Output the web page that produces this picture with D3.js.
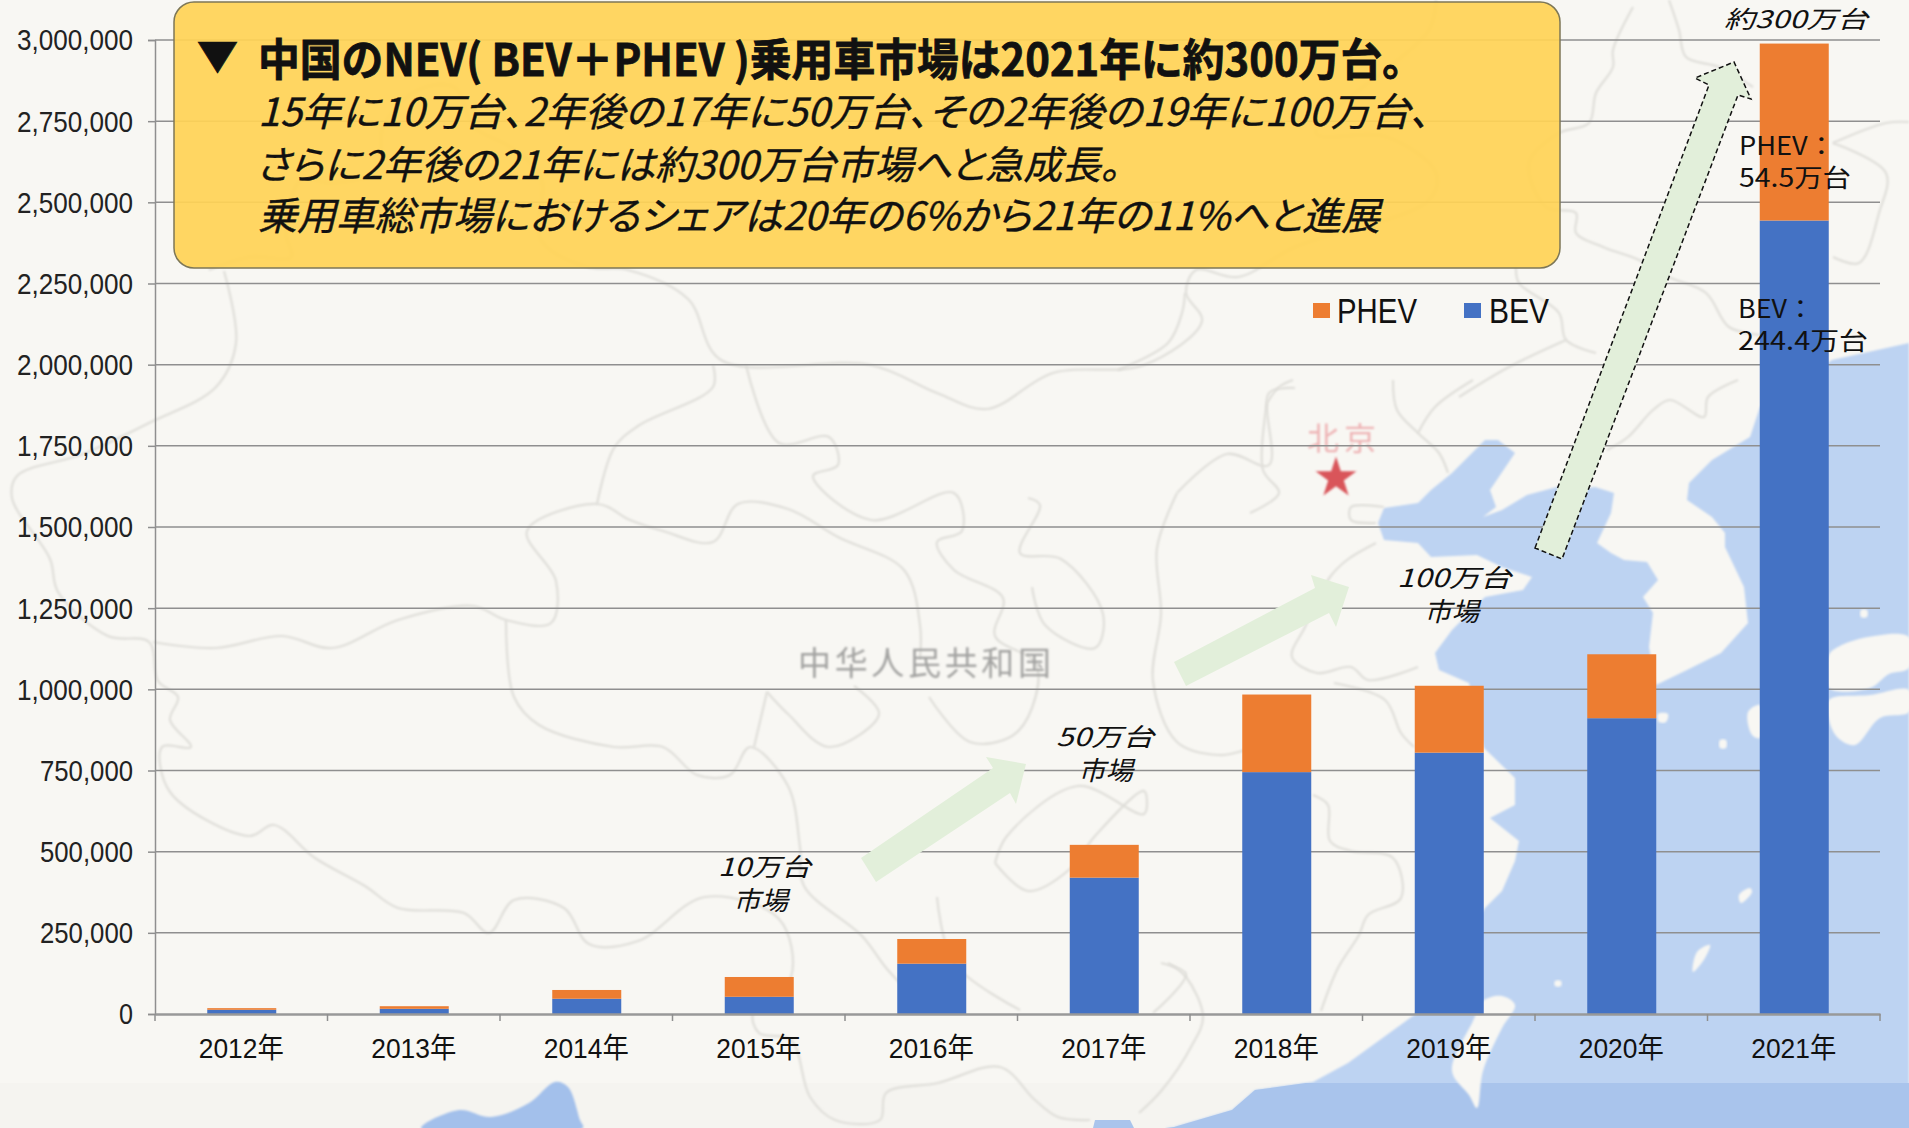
<!DOCTYPE html>
<html lang="ja">
<head>
<meta charset="utf-8">
<title>中国のNEV乗用車市場</title>
<script src="https://cdn.jsdelivr.net/npm/d3@7"></script>
<style>
  html, body { margin: 0; padding: 0; background: #f8f7f3; }
  svg { display: block; }
  text { font-family: "Noto Sans CJK JP", "Noto Sans", sans-serif; fill: #111; }
  .thin { font-family: "Liberation Sans", "Noto Sans CJK JP", sans-serif; }
</style>
</head>
<body>
<div id="grafico"></div>
<script>
// Chart data
const categories = ['2012年', '2013年', '2014年', '2015年', '2016年', '2017年', '2018年', '2019年', '2020年', '2021年'];
const bevValues = [13000, 16000, 47000, 53000, 155000, 420000, 745000, 805000, 911000, 2444000];
const phevValues = [5000, 8000, 27000, 61000, 76000, 101000, 239000, 206000, 197000, 545000];
const yTicks = [0, 250000, 500000, 750000, 1000000, 1250000, 1500000, 1750000, 2000000, 2250000, 2500000, 2750000, 3000000];
const seriesNames = ['BEV', 'PHEV'];

// Background map, traced by hand
const seaOutline = [[1909,343],[1832,360],[1780,395],[1760,407],[1750,437],[1712,460],[1689,483],[1687,500],[1712,517],[1725,533],[1725,547],[1744,587],[1748,623],[1721,653],[1687,670],[1656,685],[1649,647],[1653,613],[1643,597],[1658,580],[1647,562],[1624,560],[1611,553],[1597,543],[1611,513],[1614,493],[1595,487],[1574,490],[1557,487],[1527,495],[1502,510],[1483,517],[1496,507],[1490,490],[1515,453],[1498,440],[1485,440],[1452,473],[1431,490],[1418,503],[1384,508],[1378,523],[1384,540],[1418,543],[1431,557],[1477,555],[1502,567],[1532,577],[1523,590],[1485,597],[1452,630],[1435,653],[1439,670],[1469,683],[1484,748],[1515,778],[1515,805],[1490,818],[1519,841],[1515,861],[1502,891],[1485,908],[1450,970],[1417,1013],[1348,1063],[1313,1082],[1255,1090],[1232,1110],[1174,1127],[1165,1128],[1909,1128]];
const bengalOutline = [[421,1128],[459,1110],[491,1117],[529,1103],[555,1082],[568,1087],[580,1120],[583,1128]];
const gulfOutline = [[1093,1128],[1095,1120],[1130,1120],[1134,1128]];
const islands = [
  [[1502,996],[1515,1005],[1502,1028],[1483,1071],[1477,1108],[1469,1095],[1452,1071],[1473,1021],[1483,1001]],
  [[1829,655],[1838,647],[1868,637],[1909,637],[1909,668],[1889,674],[1870,688],[1829,688]],
  [[1829,700],[1870,695],[1909,690],[1909,712],[1880,718],[1855,745],[1838,738],[1829,720]],
  [[1739,895],[1750,888],[1752,892],[1741,903]],
  [[1697,952],[1710,945],[1705,958],[1693,972]],
  [[1555,981],[1561,981],[1561,986],[1555,986]],
  [[1720,740],[1726,740],[1726,748],[1720,748]],
  [[1658,714],[1668,714],[1666,722],[1659,722]],
  [[1861,610],[1867,610],[1867,617],[1861,617]],
  [[1748,712],[1760,705],[1760,738],[1752,735]]
];
const mapOutlines = [
  [[224,271],[236,343],[216,387],[149,423],[83,454],[17,476],[12,498],[50,559],[58,592],[108,636],[149,642],[158,681],[178,697],[170,720],[191,747],[162,747],[170,792],[249,836],[274,825],[315,858],[365,886],[398,908],[464,913],[489,933],[514,900],[564,908],[589,944],[638,941],[705,897],[779,919],[791,977],[753,1013],[759,1033],[791,1040],[810,1097],[835,1120],[880,1120],[886,1093],[938,1083],[1000,1067],[1035,1100],[1058,1117],[1090,1120]],
  [[209,270],[250,257],[291,257],[286,233],[301,180],[332,183],[378,170],[383,127],[418,90],[454,87],[474,127],[510,147],[541,177],[541,240],[587,267],[628,270],[688,299],[721,360],[871,365],[937,393],[987,409],[1053,373],[1144,365],[1202,321],[1186,293],[1196,270],[1238,277],[1295,247],[1429,200],[1436,173],[1387,137],[1316,133],[1429,30],[1436,0]],
  [[1669,0],[1679,30],[1686,57],[1719,67],[1753,87]],
  [[1633,7],[1613,50],[1613,67],[1596,93],[1589,123],[1559,133],[1529,163],[1546,207],[1576,213],[1576,233],[1603,247],[1639,260],[1669,277],[1706,293],[1729,327],[1760,335]],
  [[1833,143],[1886,123],[1909,122]],
  [[1833,143],[1886,173],[1879,213],[1859,263],[1833,257]],
  [[506,620],[514,697],[539,725],[614,747],[663,747],[697,775],[730,775],[750,747],[788,786],[800,847],[804,886],[862,936],[887,969],[930,1013]],
  [[153,642],[216,648],[282,636],[332,648],[398,620],[473,606],[506,620],[551,623],[556,581],[527,531],[597,504],[630,520],[663,531],[713,542],[738,504],[788,509],[838,537],[904,570],[920,625],[920,659]],
  [[597,504],[614,448],[638,426],[713,387],[713,365]],
  [[746,365],[779,443],[829,437],[838,465],[813,476],[871,520],[954,493],[962,531],[937,542],[954,570],[1003,598],[995,636],[1036,664],[1032,708],[1012,736],[970,742],[929,697]],
  [[1028,498],[1040,505],[1020,553],[1061,559],[1103,614],[1095,648],[1045,625],[1032,587]],
  [[1177,493],[1157,548],[1161,614],[1153,681],[1177,742],[1219,755],[1245,750]],
  [[1177,493],[1227,454],[1269,465],[1269,393],[1295,388]],
  [[767,692],[754,747]],
  [[767,692],[788,714],[829,747],[879,714],[854,686]],
  [[995,863],[1028,891],[1070,869],[1095,836],[1144,791],[1144,814],[1078,786],[1007,836],[995,863]],
  [[937,897],[954,963],[1020,1010]],
  [[1161,963],[1186,974],[1153,1013]],
  [[1168,963],[1186,977],[1203,1017],[1191,1047],[1162,1090],[1139,1113]],
  [[1267,403],[1279,387],[1293,380]],
  [[1267,403],[1263,470],[1279,493],[1250,513]],
  [[1393,380],[1397,410],[1418,433],[1439,453],[1448,473]],
  [[1418,433],[1435,407],[1473,380]],
  [[1384,507],[1351,507],[1351,520],[1376,523]],
  [[1376,543],[1347,560],[1330,577],[1305,627],[1292,657],[1317,673],[1351,667],[1368,680],[1418,667]],
  [[1334,683],[1385,700],[1401,733],[1414,747]],
  [[1738,380],[1708,397],[1704,417],[1670,400],[1653,410],[1628,437],[1607,450]],
  [[1313,795],[1328,805],[1330,841],[1351,851],[1393,858],[1401,898],[1368,915],[1359,935],[1338,968],[1321,1011]],
  [[1516,267],[1519,283],[1559,313],[1566,340],[1596,353]],
  [[1566,340],[1509,367],[1459,397]],
  [[1185,293],[1182,313],[1168,343],[1118,370]]
];

// Arrows drawn over the grid
const arrowSmall = [[861,858],[993,768],[986,757],[1026,764],[1016,804],[1010,793],[876,882]];
const arrowMiddle = [[1174,662],[1315,588],[1311,575],[1349,587],[1336,627],[1329,613],[1186,686]];
const arrowBig = [[1535,548],[1709,85],[1695,78],[1734,62],[1751,99],[1738,95],[1562,559]];

function criarGrafico() {
  const largura = 1909;
  const altura = 1128;
  const margem = { top: 40, right: 29, bottom: 114, left: 155 };

  const svg = d3.select('#grafico').append('svg')
    .attr('width', largura)
    .attr('height', altura);

  const defs = svg.append('defs');
  defs.append('filter').attr('id', 'borrar')
    .append('feGaussianBlur').attr('stdDeviation', 0.9);
  defs.append('clipPath').attr('id', 'faixa')
    .append('rect').attr('x', 0).attr('y', 1083).attr('width', largura).attr('height', 45);

  const linha = d3.line();
  const curva = d3.line().curve(d3.curveCatmullRom.alpha(0.5));
  const fechada = d3.line().curve(d3.curveCatmullRomClosed.alpha(0.5));
  const poligono = (pts) => linha(pts) + 'Z';

  // Map behind the chart
  const mapa = svg.append('g');
  mapa.append('rect').attr('width', largura).attr('height', altura).attr('fill', '#f8f7f3');
  mapa.append('rect').attr('y', 1083).attr('width', largura).attr('height', 45).attr('fill', '#f5f4f0');
  mapa.append('path').attr('d', poligono(seaOutline)).attr('fill', '#bdd3f2').attr('filter', 'url(#borrar)');
  mapa.append('path').attr('d', poligono(seaOutline)).attr('fill', '#a9c4ec').attr('clip-path', 'url(#faixa)');
  mapa.append('path').attr('d', fechada(bengalOutline)).attr('fill', '#a3c0eb').attr('filter', 'url(#borrar)');
  mapa.append('path').attr('d', poligono(gulfOutline)).attr('fill', '#a9c4ec');
  mapa.selectAll('.ilha').data(islands).enter().append('path')
    .attr('class', 'ilha')
    .attr('d', fechada)
    .attr('fill', '#f8f7f3')
    .attr('filter', 'url(#borrar)');
  mapa.selectAll('.fronteira').data(mapOutlines).enter().append('path')
    .attr('class', 'fronteira')
    .attr('d', curva)
    .attr('fill', 'none')
    .attr('stroke', '#dfded9')
    .attr('stroke-width', 2.2)
    .attr('filter', 'url(#borrar)');
  mapa.append('text')
    .attr('x', 798).attr('y', 675)
    .attr('textLength', 253).attr('lengthAdjust', 'spacing')
    .style('font-family', '"Noto Sans CJK SC"')
    .style('font-size', '33px')
    .style('fill', '#a3a3a1')
    .attr('filter', 'url(#borrar)')
    .text('中华人民共和国');
  mapa.append('text')
    .attr('x', 1307).attr('y', 450)
    .attr('textLength', 69).attr('lengthAdjust', 'spacing')
    .style('font-family', '"Noto Sans CJK SC"')
    .style('font-size', '32px')
    .style('fill', '#eeb4b5')
    .attr('filter', 'url(#borrar)')
    .text('北京');
  mapa.append('path')
    .attr('d', d3.symbol(d3.symbolStar, 520)())
    .attr('transform', 'translate(1336,478)')
    .attr('fill', '#d9545a')
    .attr('filter', 'url(#borrar)');

  // Scales
  const x = d3.scaleBand()
    .domain(categories)
    .range([margem.left, largura - margem.right])
    .paddingInner(0.6)
    .paddingOuter(0.3);
  const y = d3.scaleLinear()
    .domain([0, 3000000])
    .range([altura - margem.bottom, margem.top]);

  // Y axis with full-width gridlines
  const eixoY = svg.append('g')
    .attr('transform', `translate(${margem.left},0)`)
    .call(d3.axisLeft(y)
      .tickValues(yTicks)
      .tickSize(7)
      .tickPadding(15)
      .tickFormat(d3.format(',')));
  eixoY.selectAll('.tick line').attr('stroke', '#8f8f8f').attr('stroke-width', 1.5);
  eixoY.select('.domain').attr('stroke', '#8f8f8f').attr('stroke-width', 1.5);
  eixoY.selectAll('.tick text')
    .attr('class', 'thin')
    .attr('dy', '0.34em')
    .style('font-size', '29px')
    .style('fill', '#222')
    .each(function (d) {
      const s = d3.format(',')(d);
      const virgulas = s.split(',').length - 1;
      d3.select(this)
        .attr('textLength', (s.length - virgulas) * 14 + virgulas * 9)
        .attr('lengthAdjust', 'spacingAndGlyphs');
    });

  svg.append('g').selectAll('line').data(yTicks.filter((d) => d > 0)).enter().append('line')
    .attr('x1', margem.left)
    .attr('x2', largura - margem.right)
    .attr('y1', (d) => y(d))
    .attr('y2', (d) => y(d))
    .attr('stroke', '#8f8f8f')
    .attr('stroke-width', 1.5);

  // Green arrows
  svg.append('path').attr('d', poligono(arrowSmall)).attr('fill', '#e2efda');
  svg.append('path').attr('d', poligono(arrowMiddle)).attr('fill', '#e2efda');
  svg.append('path').attr('d', poligono(arrowBig))
    .attr('fill', '#e2efda')
    .attr('stroke', '#111')
    .attr('stroke-width', 1.5)
    .attr('stroke-dasharray', '5,3');

  // Stacked bars
  const tabela = categories.map((c, i) => ({ ano: c, BEV: bevValues[i], PHEV: phevValues[i] }));
  const pilhas = d3.stack().keys(seriesNames)(tabela);
  const cor = d3.scaleOrdinal().domain(seriesNames).range(['#4472c4', '#ed7d31']);

  svg.append('g').selectAll('g').data(pilhas).enter().append('g')
    .attr('fill', (s) => cor(s.key))
    .selectAll('rect').data((s) => s).enter().append('rect')
    .attr('x', (d) => x(d.data.ano) + 0.5)
    .attr('width', x.bandwidth())
    .attr('y', (d) => y(d[1]))
    .attr('height', (d) => y(d[0]) - y(d[1]));

  // X axis: labels centred, tick marks on the band edges
  const eixoX = svg.append('g')
    .attr('transform', `translate(0,${altura - margem.bottom})`)
    .call(d3.axisBottom(x).tickSize(0).tickPadding(24));
  eixoX.select('.domain').attr('stroke', '#999').attr('stroke-width', 2.5);
  eixoX.selectAll('.tick text')
    .attr('class', 'thin')
    .style('font-size', '28px')
    .style('fill', '#111')
    .attr('textLength', 85)
    .attr('lengthAdjust', 'spacingAndGlyphs');
  eixoX.selectAll('.marca').data(d3.range(categories.length + 1)).enter().append('line')
    .attr('class', 'marca')
    .attr('x1', (i) => margem.left + i * x.step())
    .attr('x2', (i) => margem.left + i * x.step())
    .attr('y1', 0)
    .attr('y2', 7)
    .attr('stroke', '#8f8f8f')
    .attr('stroke-width', 1.5);

  // Legend
  const legenda = [
    { nome: 'PHEV', quadro: 1313, texto: 1337, largura: 80 },
    { nome: 'BEV', quadro: 1464, texto: 1489, largura: 60 }
  ];
  const itens = svg.append('g').selectAll('g').data(legenda).enter().append('g');
  itens.append('rect')
    .attr('x', (d) => d.quadro).attr('y', 303)
    .attr('width', 17).attr('height', 15)
    .attr('fill', (d) => cor(d.nome));
  itens.append('text')
    .attr('class', 'thin')
    .attr('x', (d) => d.texto).attr('y', 323)
    .attr('textLength', (d) => d.largura)
    .attr('lengthAdjust', 'spacingAndGlyphs')
    .style('font-size', '35px')
    .style('fill', '#111')
    .text((d) => d.nome);

  // Yellow callout
  svg.append('rect')
    .attr('x', 174).attr('y', 2)
    .attr('width', 1386).attr('height', 266)
    .attr('rx', 20)
    .attr('fill', '#ffd356')
    .attr('fill-opacity', 0.93)
    .attr('stroke', '#7d7757')
    .attr('stroke-width', 1.5);

  const textos = [
    { t: '▼', x: 197, y: 70, w: 41, s: 38, b: 700 },
    { t: '中国のNEV( BEV＋PHEV )乗用車市場は2021年に約300万台。', x: 258, y: 76, w: 1166, s: 44, b: 700 },
    { t: '15年に10万台、2年後の17年に50万台、その2年後の19年に100万台、', x: 258, y: 126, w: 1172, s: 39, it: true },
    { t: 'さらに2年後の21年には約300万台市場へと急成長。', x: 256, y: 179, w: 864, s: 39, it: true },
    { t: '乗用車総市場におけるシェアは20年の6%から21年の11%へと進展', x: 258, y: 230, w: 1122, s: 39, it: true },
    { t: '約300万台', x: 1724, y: 28, w: 144, s: 24, it: true },
    { t: 'PHEV：', x: 1739, y: 155, w: 96, s: 25 },
    { t: '54.5万台', x: 1739, y: 187, w: 112, s: 25 },
    { t: 'BEV：', x: 1738, y: 318, w: 76, s: 25 },
    { t: '244.4万台', x: 1738, y: 350, w: 130, s: 25 },
    { t: '10万台', x: 718, y: 876, w: 93, s: 25, it: true },
    { t: '市場', x: 733, y: 910, w: 55, s: 26, it: true },
    { t: '50万台', x: 1056, y: 746, w: 98, s: 25, it: true },
    { t: '市場', x: 1078, y: 780, w: 55, s: 26, it: true },
    { t: '100万台', x: 1397, y: 587, w: 114, s: 25, it: true },
    { t: '市場', x: 1424, y: 621, w: 55, s: 26, it: true }
  ];
  svg.append('g').selectAll('text').data(textos).enter().append('text')
    .attr('x', (d) => d.x)
    .attr('y', (d) => d.y)
    .attr('textLength', (d) => d.w)
    .attr('lengthAdjust', 'spacingAndGlyphs')
    .style('font-size', (d) => `${d.s}px`)
    .style('font-weight', (d) => d.b || 400)
    .style('font-style', (d) => (d.it ? 'italic' : 'normal'))
    .style('font-feature-settings', (d) => (d.it ? '"palt"' : 'normal'))
    .style('stroke', (d) => (d.s > 30 ? '#111' : 'none'))
    .style('stroke-width', (d) => (d.b ? 0.8 : 0.4))
    .text((d) => d.t);
}

criarGrafico();
</script>
</body>
</html>
